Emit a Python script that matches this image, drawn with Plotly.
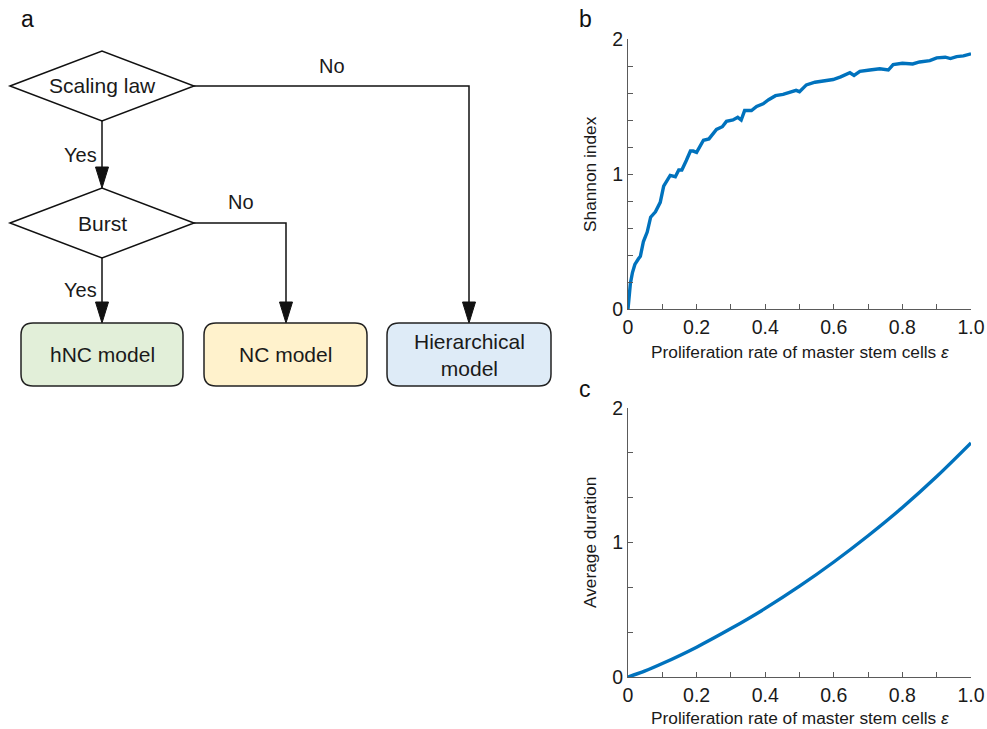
import plotly.graph_objects as go

# ---------------- data ----------------
eps_b = [0, 0.003, 0.007, 0.013, 0.02, 0.03, 0.036, 0.045, 0.056, 0.066, 0.08, 0.094, 0.104,
         0.123, 0.138, 0.148, 0.157, 0.17, 0.182, 0.19, 0.20, 0.22, 0.236, 0.258, 0.275,
         0.287, 0.306, 0.32, 0.33, 0.34, 0.36, 0.375, 0.394, 0.41, 0.43, 0.452, 0.467, 0.49,
         0.50, 0.52, 0.545, 0.569, 0.598, 0.62, 0.647, 0.659, 0.676, 0.705, 0.734, 0.759,
         0.773, 0.80, 0.82, 0.83, 0.85, 0.88, 0.90, 0.925, 0.94, 0.958, 0.978, 1.0]
shannon = [0, 0.10, 0.19, 0.27, 0.33, 0.37, 0.39, 0.50, 0.57, 0.68, 0.72, 0.79, 0.91,
           0.99, 0.98, 1.03, 1.03, 1.10, 1.17, 1.17, 1.16, 1.25, 1.26, 1.33, 1.35,
           1.39, 1.40, 1.42, 1.40, 1.47, 1.47, 1.50, 1.52, 1.55, 1.58, 1.59, 1.60, 1.62,
           1.61, 1.66, 1.68, 1.69, 1.70, 1.72, 1.75, 1.73, 1.76, 1.77, 1.78, 1.77,
           1.81, 1.82, 1.82, 1.815, 1.83, 1.84, 1.86, 1.865, 1.855, 1.87, 1.875, 1.89]

eps_c = [0, 0.05, 0.1, 0.2, 0.3, 0.4, 0.5, 0.6, 0.7, 0.8, 0.9, 1.0]
duration = [0, 0.045, 0.10, 0.222, 0.36, 0.51, 0.675, 0.855, 1.05, 1.26, 1.49, 1.74]

x_tickvals = [0, 0.1, 0.2, 0.3, 0.4, 0.5, 0.6, 0.7, 0.8, 0.9, 1.0]
x_ticktext = ["0", "", "0.2", "", "0.4", "", "0.6", "", "0.8", "", "1.0"]
yb_tickvals = [0, 0.2, 0.4, 0.6, 0.8, 1.0, 1.2, 1.4, 1.6, 1.8, 2.0]
yb_ticktext = ["0", "", "", "", "", "1", "", "", "", "", "2"]
yc_tickvals = [0, 1 / 3, 2 / 3, 1, 4 / 3, 5 / 3, 2]
yc_ticktext = ["0", "", "", "1", "", "", "2"]

x_title = "Proliferation rate of master stem cells <i>ε</i>"
yb_title = "Shannon index"
yc_title = "Average duration"

box_labels = ["hNC model", "NC model", "Hierarchical<br>model"]
box_colors = ["#e2efd9", "#fff2cc", "#deebf7"]
decision_labels = ["Scaling law", "Burst"]

# ---------------- figure ----------------
W, H = 987, 729
FONT = "Liberation Sans, Arial, sans-serif"
BLUE = "#0072bd"
AX = "#5a5a5a"
TXT = "#1a1a1a"

fig = go.Figure()

fig.add_trace(go.Scatter(x=eps_b, y=shannon, mode="lines",
                         line=dict(color=BLUE, width=3.4), xaxis="x", yaxis="y",
                         showlegend=False))
fig.add_trace(go.Scatter(x=eps_c, y=duration, mode="lines",
                         line=dict(color=BLUE, width=3.4, shape="spline"),
                         xaxis="x2", yaxis="y2", showlegend=False))


def px_x(p):
    return p / W


def px_y(p):
    return 1 - p / H


ax_common = dict(showgrid=False, zeroline=False, showline=True, linecolor=AX, linewidth=1.2,
                 ticks="inside", ticklen=5, tickcolor=AX, tickwidth=1.2, automargin=False,
                 tickfont=dict(family=FONT, size=19.5, color=TXT))

xdom = [px_x(628), px_x(971)]
fig.update_layout(
    template="none",
    width=W, height=H, margin=dict(l=0, r=0, t=0, b=0, pad=0, autoexpand=False),
    paper_bgcolor="white", plot_bgcolor="white",
    font=dict(family=FONT, color=TXT),
    xaxis=dict(domain=xdom, range=[0, 1], tickvals=x_tickvals, ticktext=x_ticktext,
               anchor="y", **ax_common),
    yaxis=dict(domain=[px_y(309), px_y(39)], range=[0, 2], tickvals=yb_tickvals,
               ticktext=yb_ticktext, anchor="x", **ax_common),
    xaxis2=dict(domain=xdom, range=[0, 1], tickvals=x_tickvals, ticktext=x_ticktext,
                anchor="y2", **ax_common),
    yaxis2=dict(domain=[px_y(677), px_y(408)], range=[0, 2], tickvals=yc_tickvals,
                ticktext=yc_ticktext, anchor="x2", **ax_common),
    xaxis3=dict(domain=[0, 570 / W], range=[0, 570], visible=False, anchor="y3",
                automargin=False),
    yaxis3=dict(domain=[0, 1], range=[H, 0], visible=False, anchor="x3", automargin=False),
)

ann = []
# axis titles
for yc in (352, 718):
    ann.append(dict(x=799.5 / W, y=px_y(yc), xref="paper", yref="paper", text=x_title,
                    showarrow=False, font=dict(family=FONT, size=17.3, color=TXT),
                    xanchor="center", yanchor="middle"))
ann.append(dict(x=px_x(590), y=px_y(174), xref="paper", yref="paper", text=yb_title,
                textangle=-90, showarrow=False, font=dict(family=FONT, size=17.3, color=TXT),
                xanchor="center", yanchor="middle"))
ann.append(dict(x=px_x(590), y=px_y(543), xref="paper", yref="paper", text=yc_title,
                textangle=-90, showarrow=False, font=dict(family=FONT, size=17.3, color=TXT),
                xanchor="center", yanchor="middle"))
# panel letters
for lab, (lx, ly) in zip(["a", "b", "c"], [(27, 19), (585, 19), (585, 389)]):
    ann.append(dict(x=px_x(lx), y=px_y(ly), xref="paper", yref="paper", text=lab,
                    showarrow=False, font=dict(family=FONT, size=23, color="#111"),
                    xanchor="center", yanchor="middle"))

shapes = []
LINE = dict(color="#111", width=1.5)


def add_text(x, y, t, size=20):
    ann.append(dict(x=x, y=y, xref="x3", yref="y3", text=t, showarrow=False,
                    font=dict(family=FONT, size=size, color=TXT),
                    xanchor="center", yanchor="middle"))


def diamond(cx, cy, hw, hh):
    path = f"M {cx-hw},{cy} L {cx},{cy-hh} L {cx+hw},{cy} L {cx},{cy+hh} Z"
    shapes.append(dict(type="path", path=path, xref="x3", yref="y3", line=LINE,
                       fillcolor="white"))


def polyline(pts):
    path = "M " + " L ".join(f"{x},{y}" for x, y in pts)
    shapes.append(dict(type="path", path=path, xref="x3", yref="y3", line=LINE))


def arrowhead(x, ytip, hw=6.5, hl=21):
    path = f"M {x-hw},{ytip-hl} L {x+hw},{ytip-hl} L {x},{ytip} Z"
    shapes.append(dict(type="path", path=path, xref="x3", yref="y3",
                       line=dict(color="#111", width=1), fillcolor="#111"))


def rbox(x0, y0, x1, y1, r, fill):
    path = (f"M {x0+r},{y0} L {x1-r},{y0} Q {x1},{y0} {x1},{y0+r} L {x1},{y1-r} "
            f"Q {x1},{y1} {x1-r},{y1} L {x0+r},{y1} Q {x0},{y1} {x0},{y1-r} "
            f"L {x0},{y0+r} Q {x0},{y0} {x0+r},{y0} Z")
    shapes.append(dict(type="path", path=path, xref="x3", yref="y3",
                       line=dict(color="#222", width=1.5), fillcolor=fill))


# connectors
polyline([(102, 121), (102, 172)])
arrowhead(102, 188)
polyline([(102, 257), (102, 307)])
arrowhead(102, 323)
polyline([(193, 223), (286, 223), (286, 307)])
arrowhead(286, 323)
polyline([(193, 86), (469, 86), (469, 307)])
arrowhead(469, 323)

diamond(102, 86, 92, 35)
diamond(102, 223, 92, 35)
add_text(102, 85, decision_labels[0], 21)
add_text(102, 223, decision_labels[1], 21)
add_text(80, 155, "Yes")
add_text(80, 290, "Yes")
add_text(241, 202, "No")
add_text(332, 66, "No")

boxes_x = [(21, 183), (204, 367), (387, 551)]
for (x0, x1), lab, col in zip(boxes_x, box_labels, box_colors):
    rbox(x0, 323, x1, 386, 12, col)
    ann.append(dict(x=(x0 + x1) / 2, y=354.5, xref="x3", yref="y3", text=lab, showarrow=False,
                    font=dict(family=FONT, size=21, color=TXT),
                    xanchor="center", yanchor="middle"))

fig.update_layout(annotations=ann, shapes=shapes)
fig.write_html("out.html")
